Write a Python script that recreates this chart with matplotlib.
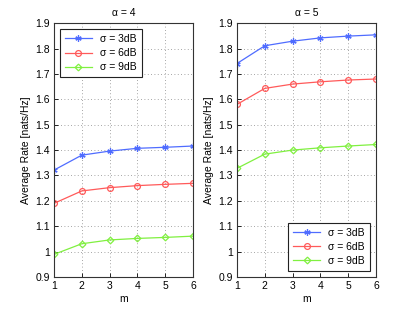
import matplotlib
matplotlib.use("Agg")
import matplotlib.pyplot as plt

m = [1, 2, 3, 4, 5, 6]
labels = ["σ = 3dB", "σ = 6dB", "σ = 9dB"]
titles = ["α = 4", "α = 5"]
a4_3dB = [1.321, 1.380, 1.396, 1.407, 1.411, 1.416]
a4_6dB = [1.190, 1.239, 1.252, 1.260, 1.265, 1.269]
a4_9dB = [0.989, 1.031, 1.046, 1.052, 1.056, 1.061]
a5_3dB = [1.741, 1.811, 1.829, 1.842, 1.849, 1.854]
a5_6dB = [1.580, 1.643, 1.660, 1.669, 1.676, 1.680]
a5_9dB = [1.328, 1.384, 1.400, 1.409, 1.416, 1.422]
yticks = [0.9, 1, 1.1, 1.2, 1.3, 1.4, 1.5, 1.6, 1.7, 1.8, 1.9]
ytick_labels = ["0.9", "1", "1.1", "1.2", "1.3", "1.4", "1.5", "1.6", "1.7", "1.8", "1.9"]

plt.rcParams['font.family'] = ['Liberation Sans', 'DejaVu Sans']
plt.rcParams['font.size'] = 7.5

colors = ['#4f6cff', '#ff5a5a', '#80f040']
markers = [(6, 2, 0), 'o', 'D']
msizes = [4.5, 4.2, 3.4]

fig = plt.figure(figsize=(4.15, 3.13), dpi=100)
ax1 = fig.add_axes([0.130, 0.115, 0.335, 0.811])
ax2 = fig.add_axes([0.571, 0.115, 0.335, 0.811])

for ax, data, title, loc in [(ax1, [a4_3dB, a4_6dB, a4_9dB], titles[0], 'upper left'),
                              (ax2, [a5_3dB, a5_6dB, a5_9dB], titles[1], 'lower right')]:
    for y, c, mk, ms, lab in zip(data, colors, markers, msizes, labels):
        ax.plot(m, y, color=c, marker=mk, markersize=ms,
                markerfacecolor='none', markeredgecolor=c,
                linewidth=0.9, markeredgewidth=0.9, label=lab)
    ax.set_xlim(1, 6)
    ax.set_ylim(0.9, 1.9)
    ax.set_xticks(m)
    ax.set_yticks(yticks)
    ax.set_yticklabels(ytick_labels)
    ax.grid(True, linestyle=(0, (1, 3)), color='#888888', linewidth=0.6)
    ax.tick_params(direction='in', length=3, width=0.6, pad=3, labelsize=7.5)
    for s in ax.spines.values():
        s.set_linewidth(0.8)
        s.set_color('#333333')
    ax.set_title(title, fontsize=7.5, pad=5)
    ax.set_xlabel('m', fontsize=7.5, labelpad=2)
    ax.set_ylabel('Average Rate [nats/Hz]', fontsize=7.5, labelpad=3)
    leg = ax.legend(loc=loc, fancybox=False, framealpha=1, edgecolor='#222222',
                    fontsize=7.5, handlelength=2.6, borderpad=0.45, labelspacing=0.4,
                    handletextpad=0.8, borderaxespad=0.6)
    leg.get_frame().set_linewidth(0.8)

fig.savefig('out.png', dpi=100)
